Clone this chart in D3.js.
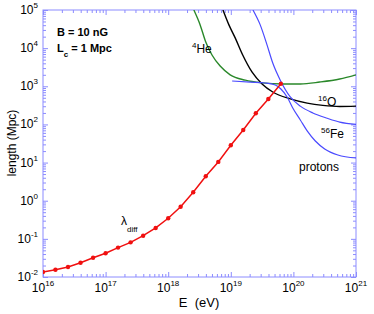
<!DOCTYPE html>
<html><head><meta charset="utf-8">
<script src="https://cdn.jsdelivr.net/npm/d3@7"></script>
<style>body{margin:0;background:#fff}svg{display:block}text{font-family:"Liberation Sans",Arial,sans-serif;fill:#000}</style>
</head><body>
<svg id="c" width="374" height="314"></svg>
<script>
// ---- data ----
const diffE = [1e16,1.58e16,2.51e16,3.98e16,6.31e16,1e17,1.58e17,2.51e17,3.98e17,6.31e17,1e18,1.58e18,2.51e18,3.98e18,6.31e18,1e19,1.58e19,2.51e19,3.98e19,6.31e19];
const diffL = [0.0135,0.0155,0.0183,0.0237,0.032,0.042,0.059,0.081,0.121,0.193,0.346,0.697,1.66,4.37,10.4,28.4,71.4,196,465,1170];
const heE = [2.57e18,3.24e18,3.98e18,5.01e18,6.76e18,9.77e18,1.70e19,3.16e19,6.76e19,1.29e20,2.63e20,5.50e20,1e21];
const heL = [1e5,4.07e4,1.45e4,6610,3390,2000,1445,1230,1150,1150,1290,1550,2000];
const oE = [7.5e18,9.33e18,1.175e19,1.55e19,2.19e19,3.16e19,4.68e19,8.91e19,1.66e20,2.95e20,5.5e20,1e21];
const oL = [1e5,4.07e4,1.86e4,6610,2340,1150,708,468,363,316,295,302];
const feE = [2.26e19,2.95e19,3.8e19,4.68e19,6.17e19,8.91e19,1.29e20,2.04e20,3.47e20,5.5e20,1e21];
const feL = [1e5,4.07e4,1.2e4,4070,1445,525,302,200,145,115,100];
const pE = [1.05e19,2.04e19,3.55e19,5.13e19,6.31e19,7.94e19,9.77e19,1.29e20,1.66e20,2.24e20,3.16e20,5.13e20,1e21];
const pL = [1375,1290,1220,1080,851,525,269,131,67.6,36.7,22.7,15.8,13.2];
const xMajor = [16,17,18,19,20,21];
const yMajor = [-2,-1,0,1,2,3,4,5];

// ---- layout ----
const L=43,R=356,T=10,B=277;
const svg=d3.select("#c");
const x=d3.scaleLog().domain([1e16,1e21]).range([L,R]);
const y=d3.scaleLog().domain([1e-2,1e5]).range([B,T]);
const axCol="#8c8cff";

svg.append("clipPath").attr("id","clip").append("rect").attr("x",L).attr("y",T).attr("width",R-L).attr("height",B-T);

function minors(d0,d1){const a=[];for(let e=d0;e<d1;e++)for(let k=2;k<=9;k++)a.push(k*Math.pow(10,e));return a;}
const xMin=minors(16,21), yMin=minors(-2,5);
const xMaj=xMajor.map(e=>Math.pow(10,e)), yMaj=yMajor.map(e=>Math.pow(10,e));

function drawAxis(gen,tr,vals,size){
  const g=svg.append("g").attr("transform",tr).call(gen.tickValues(vals).tickSize(-size).tickFormat(""));
  g.selectAll("path").remove();
  g.selectAll("line").attr("stroke",axCol);
}
drawAxis(d3.axisBottom(x),`translate(0,${B})`,xMin,3);
drawAxis(d3.axisBottom(x),`translate(0,${B})`,xMaj,5);
drawAxis(d3.axisTop(x),`translate(0,${T})`,xMin,3);
drawAxis(d3.axisTop(x),`translate(0,${T})`,xMaj,5);
drawAxis(d3.axisLeft(y),`translate(${L},0)`,yMin,3);
drawAxis(d3.axisLeft(y),`translate(${L},0)`,yMaj,5);
drawAxis(d3.axisRight(y),`translate(${R},0)`,yMin,3);
drawAxis(d3.axisRight(y),`translate(${R},0)`,yMaj,5);
svg.append("rect").attr("x",L).attr("y",T).attr("width",R-L).attr("height",B-T)
  .attr("fill","none").attr("stroke",axCol).attr("stroke-width",1);

// tick labels
xMajor.forEach(e=>{
  const t=svg.append("text").attr("x",x(Math.pow(10,e))).attr("y",292).attr("text-anchor","middle").attr("font-size",12);
  t.append("tspan").text("10");
  t.append("tspan").attr("dy",-6).attr("font-size",8).text(e);
});
yMajor.forEach(e=>{
  const t=svg.append("text").attr("x",38).attr("y",y(Math.pow(10,e))+4).attr("text-anchor","end").attr("font-size",12);
  t.append("tspan").text("10");
  t.append("tspan").attr("dy",-6).attr("font-size",8).text(e);
});

// axis titles
svg.append("text").attr("x",199).attr("y",307).attr("text-anchor","middle").attr("font-size",13).text("E  (eV)").attr("xml:space","preserve").style("white-space","pre");
svg.append("text").attr("transform","translate(16,143) rotate(-90)").attr("text-anchor","middle").attr("font-size",12).text("length (Mpc)");

// curves
const plot=svg.append("g").attr("clip-path","url(#clip)");
const line=d3.line().x(d=>x(d[0])).y(d=>y(d[1])).curve(d3.curveMonotoneX);
function curve(E,Lv,col,w){plot.append("path").datum(E.map((e,i)=>[e,Lv[i]])).attr("d",line).attr("fill","none").attr("stroke",col).attr("stroke-width",w);}
curve(heE,heL,"#2a882a",1.4);
curve(oE,oL,"#000",1.4);
curve(feE,feL,"#4a4aff",1.2);
curve(pE,pL,"#4a4aff",1.2);
const rl=d3.line().x(d=>x(d[0])).y(d=>y(d[1]));
const red=diffE.map((e,i)=>[e,diffL[i]]);
plot.append("path").datum(red).attr("d",rl).attr("fill","none").attr("stroke","#f01010").attr("stroke-width",1.5);
plot.selectAll("circle").data(red).join("circle").attr("cx",d=>x(d[0])).attr("cy",d=>y(d[1])).attr("r",2.2).attr("fill","#f01010");

// annotations
svg.append("text").attr("x",57).attr("y",36).attr("font-size",11).attr("font-weight","bold").text("B = 10 nG");
const lc=svg.append("text").attr("x",57).attr("y",52).attr("font-size",11).attr("font-weight","bold");
lc.append("tspan").text("L");
lc.append("tspan").attr("dy",5).attr("font-size",8).text("c");
lc.append("tspan").attr("dy",-5).text(" = 1 Mpc");

function iso(xp,yp,sup,txt){
  const t=svg.append("text").attr("x",xp).attr("y",yp).attr("font-size",12);
  t.append("tspan").attr("dy",-5).attr("font-size",8).text(sup);
  t.append("tspan").attr("dy",5).text(txt);
}
iso(192,53,"4","He");
iso(318,106,"16","O");
iso(321,138,"56","Fe");
svg.append("text").attr("x",299).attr("y",171).attr("font-size",12).text("protons");
const ld=svg.append("text").attr("x",121).attr("y",225).attr("font-size",12);
ld.append("tspan").text("λ");
ld.append("tspan").attr("dy",7).attr("font-size",8).text("diff");
</script>
</body></html>
